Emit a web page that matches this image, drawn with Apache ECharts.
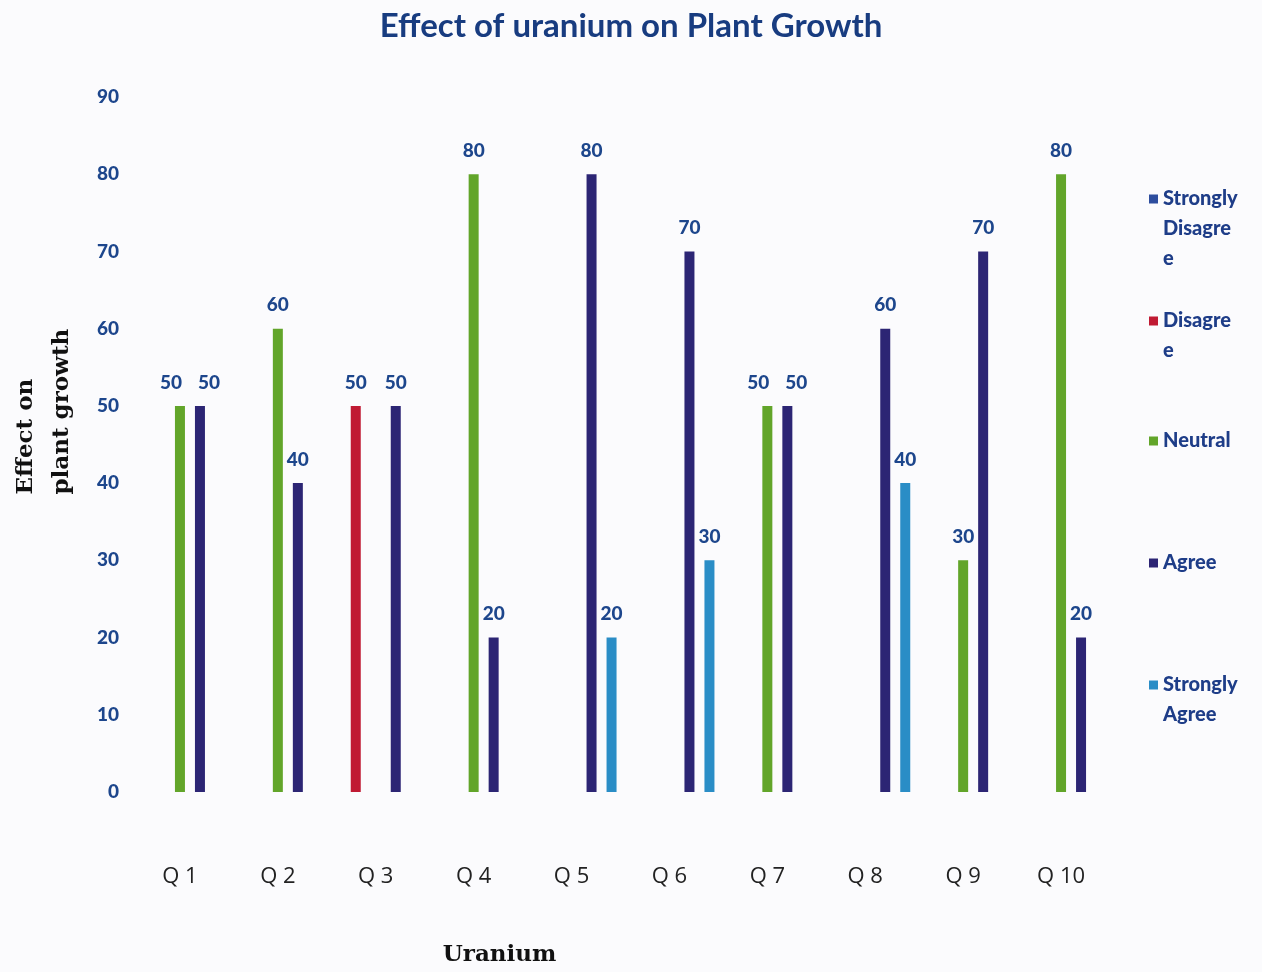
<!DOCTYPE html>
<html>
<head>
<meta charset="utf-8">
<title>Effect of uranium on Plant Growth</title>
<script src="https://cdn.jsdelivr.net/npm/echarts@6/dist/echarts.min.js"></script>
<style>
  html, body { margin: 0; padding: 0; background: #fbfbfd; }
  #chart { width: 1262px; height: 972px; }
</style>
</head>
<body>
<div id="chart"></div>
<script>
// Survey questions on the x axis
const categories = ['Q 1', 'Q 2', 'Q 3', 'Q 4', 'Q 5', 'Q 6', 'Q 7', 'Q 8', 'Q 9', 'Q 10'];

// Responses per question (null = no answers in that group)
const stronglyDisagree = [null, null, null, null, null, null, null, null, null, null];
const disagree         = [null, null, 50, null, null, null, null, null, null, null];
const neutral          = [50, 60, null, 80, null, null, 50, null, 30, 80];
const agree            = [50, 40, 50, 20, 80, 70, 50, 60, 70, 20];
const stronglyAgree    = [null, null, null, null, 20, 30, null, 40, null, null];

const seriesNames = ['Strongly Disagree', 'Disagree', 'Neutral', 'Agree', 'Strongly Agree'];
const seriesData  = [stronglyDisagree, disagree, neutral, agree, stronglyAgree];
const seriesColors = ['#2d4d9e', '#c01a33', '#62a52a', '#2c2574', '#2a8dc6'];

// Legend captions, wrapped the way the narrow legend column shows them
const legendCaptions = {
  'Strongly Disagree': 'Strongly\nDisagre\ne',
  'Disagree': 'Disagre\ne',
  'Neutral': 'Neutral',
  'Agree': 'Agree',
  'Strongly Agree': 'Strongly\nAgree'
};

const labelBlue = '#1d468c';
const legendLineHeight = 30;
const legendIconY = [197, 319, 439, 561, 683];

const chart = echarts.init(document.getElementById('chart'), null, { renderer: 'canvas' });

// One legend block per entry; leading blank lines keep the icon beside the first caption line
const legends = seriesNames.map((name, i) => {
  const lines = legendCaptions[name].split('\n').length;
  const caption = '\n'.repeat(lines - 1) + legendCaptions[name];
  return {
    orient: 'vertical',
    left: 1149,
    top: legendIconY[i] - 13 - (lines - 1) * legendLineHeight,
    padding: 0,
    icon: 'rect',
    itemWidth: 9,
    itemHeight: 9,
    itemGap: 0,
    formatter: () => caption,
    data: [name],
    textStyle: {
      fontFamily: 'Lato',
      fontWeight: 900,
      fontSize: 20,
      lineHeight: legendLineHeight,
      color: '#1e3d88'
    }
  };
});

// Two equal neighbouring bars in one group get their value labels nudged apart
function labelOffsets(seriesIndex) {
  return seriesData[seriesIndex].map((v, c) => {
    if (v == null) return 0;
    const left = seriesIndex > 0 ? seriesData[seriesIndex - 1][c] : null;
    const right = seriesIndex < seriesData.length - 1 ? seriesData[seriesIndex + 1][c] : null;
    if (left === v) return 9;
    if (right === v) return -9;
    return 0;
  });
}

const series = seriesNames.map((name, i) => {
  const offsets = labelOffsets(i);
  return {
    name: name,
    type: 'bar',
    data: seriesData[i].map((v, c) =>
      offsets[c] ? { value: v, label: { offset: [offsets[c], 0] } } : v),
    barWidth: 10,
    barGap: '100%',
    itemStyle: { color: seriesColors[i] },
    label: {
      show: true,
      position: 'top',
      distance: 14,
      fontFamily: 'Lato',
      fontWeight: 900,
      fontSize: 19,
      color: labelBlue
    }
  };
});

chart.setOption({
  backgroundColor: '#fbfbfd',
  animation: false,
  title: {
    text: 'Effect of uranium on Plant Growth',
    left: 'center',
    top: 5,
    textStyle: {
      fontFamily: 'Lato',
      fontWeight: 'bold',
      fontSize: 33,
      color: '#183c80'
    }
  },
  legend: legends,
  grid: { left: 126, width: 984, top: 97, bottom: 179, containLabel: false },
  xAxis: {
    type: 'category',
    data: categories,
    axisLine: { show: false },
    axisTick: { show: false },
    axisLabel: {
      margin: 74,
      fontFamily: 'Open Sans',
      fontSize: 22,
      color: '#222222'
    },
    name: 'Uranium',
    nameLocation: 'middle',
    nameGap: 152,
    nameTextStyle: {
      fontFamily: 'DejaVu Serif',
      fontWeight: 'bold',
      fontSize: 23,
      color: '#111111',
      padding: [0, 242, 0, 0]
    }
  },
  yAxis: {
    type: 'value',
    min: 0,
    max: 90,
    interval: 10,
    axisLine: { show: false },
    axisTick: { show: false },
    splitLine: { show: false },
    axisLabel: {
      margin: 12,
      fontFamily: 'Lato',
      fontWeight: 900,
      fontSize: 19,
      color: labelBlue
    },
    name: 'Effect on\nplant growth',
    nameLocation: 'middle',
    nameRotate: 90,
    nameGap: 51,
    nameTextStyle: {
      fontFamily: 'DejaVu Serif',
      fontWeight: 'bold',
      fontSize: 23,
      lineHeight: 36,
      color: '#111111',
      align: 'left',
      padding: [0, 0, 0, -50]
    }
  },
  series: series
});
</script>
</body>
</html>
